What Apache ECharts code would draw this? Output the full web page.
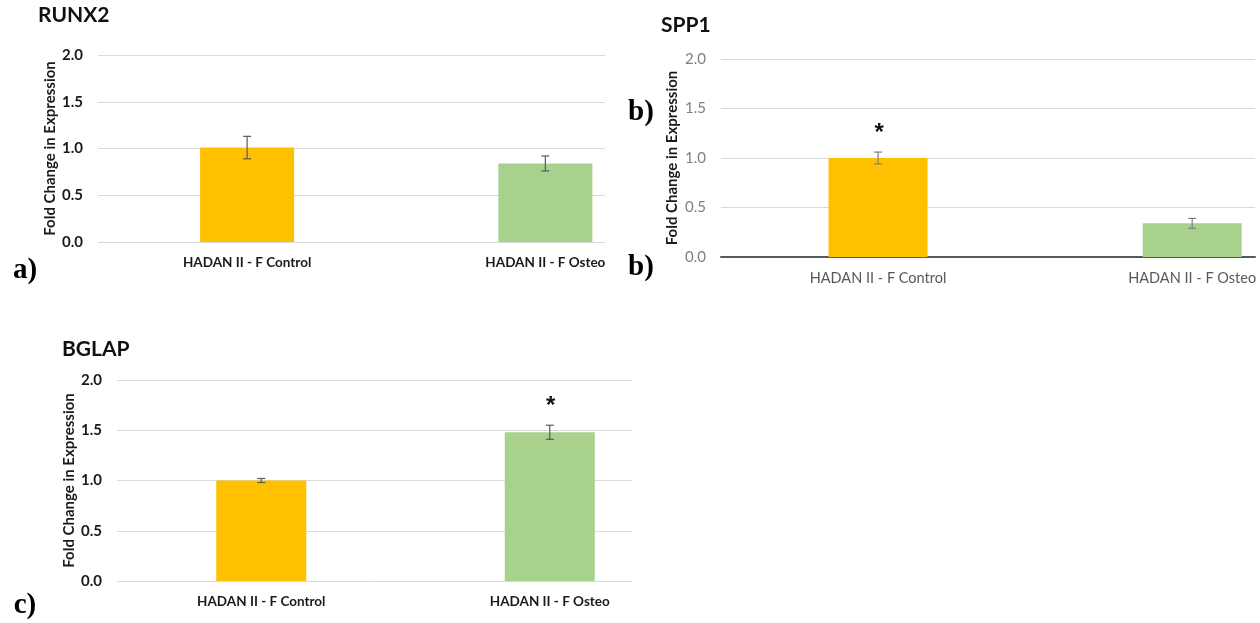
<!DOCTYPE html>
<html>
<head>
<meta charset="utf-8">
<script src="https://cdn.jsdelivr.net/npm/echarts@6/dist/echarts.min.js"></script>
<style>
  html, body { margin: 0; padding: 0; background: #ffffff; }
  #chart { width: 1260px; height: 623px; }
</style>
</head>
<body>
<div id="chart"></div>
<script>
// Relative expression (fold change) of osteogenic markers, control vs osteogenic medium
const categories = ['HADAN II - F Control', 'HADAN II - F Osteo'];
const yTicks = [0, 0.5, 1.0, 1.5, 2.0];

const runx2Mean = [1.01, 0.84];
const runx2Err = [0.12, 0.08];

const spp1Mean = [1.0, 0.34];
const spp1Err = [0.06, 0.05];
const spp1Sig = ['*', ''];

const bglapMean = [1.0, 1.48];
const bglapErr = [0.02, 0.07];
const bglapSig = ['', '*'];

const barColors = ['#FFC000', '#A9D18E'];
const FONT = 'Lato';

const chart = echarts.init(document.getElementById('chart'), null, { renderer: 'canvas' });

function catLabel(v) {
  const r = Math.round(v);
  return Math.abs(v - r) < 1e-6 && categories[r] !== undefined ? categories[r] : '';
}

function barData(means) {
  return means.map((v, i) => ({ value: [i, v], itemStyle: { color: barColors[i] } }));
}

function errData(means, errs) {
  return means.map((v, i) => [i, v - errs[i], v + errs[i]]);
}

function errorRenderer(sig, color) {
  return function (params, api) {
    const x = api.value(0);
    const top = api.coord([x, api.value(2)]);
    const bot = api.coord([x, api.value(1)]);
    const half = 4;
    const style = { stroke: color, lineWidth: 1.2 };
    const children = [
      { type: 'line', shape: { x1: top[0], y1: top[1], x2: bot[0], y2: bot[1] }, style },
      { type: 'line', shape: { x1: top[0] - half, y1: top[1], x2: top[0] + half, y2: top[1] }, style },
      { type: 'line', shape: { x1: bot[0] - half, y1: bot[1], x2: bot[0] + half, y2: bot[1] }, style }
    ];
    const mark = sig ? sig[params.dataIndex] : '';
    if (mark) {
      children.push({
        type: 'text',
        style: {
          text: mark, x: top[0] + 1, y: top[1] - 19,
          align: 'center', verticalAlign: 'middle',
          font: 'bold 24px "Liberation Sans", Arial, sans-serif', fill: '#111111'
        }
      });
    }
    return { type: 'group', children };
  };
}

// Three panels: a) RUNX2, b) SPP1, c) BGLAP
const panels = [
  { grid: { left: 98, top: 55, width: 507, height: 187 }, xMax: 1.2, barWidth: 94,
    mean: runx2Mean, err: runx2Err, sig: null, excel: true, nameGap: 38 },
  { grid: { left: 721, top: 59, width: 534, height: 198 }, xMax: 1.2, barWidth: 99,
    mean: spp1Mean, err: spp1Err, sig: spp1Sig, excel: false, nameGap: 41 },
  { grid: { left: 117, top: 380, width: 515, height: 201 }, xMax: 1.285, barWidth: 90,
    mean: bglapMean, err: bglapErr, sig: bglapSig, excel: true, nameGap: 37 }
];

const grids = [], xAxes = [], yAxes = [], series = [];
panels.forEach((p, k) => {
  grids.push(p.grid);
  xAxes.push({
    type: 'value', gridIndex: k, min: -0.5, max: p.xMax, interval: 0.5,
    splitLine: { show: false },
    axisTick: { show: false },
    axisLine: { show: !p.excel, onZero: false, lineStyle: { color: '#595959', width: 2 } },
    axisLabel: {
      formatter: catLabel, margin: 14,
      fontFamily: FONT, fontSize: p.excel ? 13.5 : 14.5,
      fontWeight: p.excel ? 'bold' : 'normal',
      color: p.excel ? '#1a1a1a' : '#595959'
    }
  });
  yAxes.push({
    type: 'value', gridIndex: k, min: yTicks[0], max: yTicks[yTicks.length - 1], interval: 0.5,
    name: 'Fold Change in Expression', nameLocation: 'middle', nameGap: p.nameGap, nameRotate: 90,
    nameTextStyle: { fontFamily: FONT, fontSize: 15, fontWeight: 'bold', color: '#1a1a1a' },
    axisLine: { show: false }, axisTick: { show: false },
    splitLine: { lineStyle: { color: '#D9D9D9', width: 1 } },
    axisLabel: {
      formatter: v => v.toFixed(1), margin: 15,
      fontFamily: FONT, fontSize: 15,
      fontWeight: p.excel ? 'bold' : 'normal',
      color: p.excel ? '#1a1a1a' : '#808080'
    }
  });
  series.push({
    type: 'bar', xAxisIndex: k, yAxisIndex: k, barWidth: p.barWidth,
    data: barData(p.mean), silent: true
  });
  series.push({
    type: 'custom', xAxisIndex: k, yAxisIndex: k, silent: true, z: 5,
    renderItem: errorRenderer(p.sig, p.excel ? '#595959' : '#7f7f7f'),
    data: errData(p.mean, p.err)
  });
});

const titleStyle = { fontFamily: FONT, fontSize: 21, fontWeight: 'bold', color: '#111111' };
const letterFont = 'bold 29px "Liberation Serif", "Times New Roman", serif';
function letter(text, x, y) {
  return { type: 'text', style: { text, x, y, align: 'center', verticalAlign: 'middle', font: letterFont, fill: '#000000' } };
}

chart.setOption({
  animation: false,
  backgroundColor: '#ffffff',
  title: [
    { text: 'RUNX2', left: 38, top: 5, padding: 0, textStyle: titleStyle },
    { text: 'SPP1', left: 661, top: 15, padding: 0, textStyle: titleStyle },
    { text: 'BGLAP', left: 62, top: 339, padding: 0, textStyle: titleStyle }
  ],
  grid: grids,
  xAxis: xAxes,
  yAxis: yAxes,
  series: series,
  graphic: [
    letter('a)', 25, 271),
    letter('b)', 641, 113),
    letter('b)', 641, 268),
    letter('c)', 25, 606)
  ]
});
</script>
</body>
</html>
